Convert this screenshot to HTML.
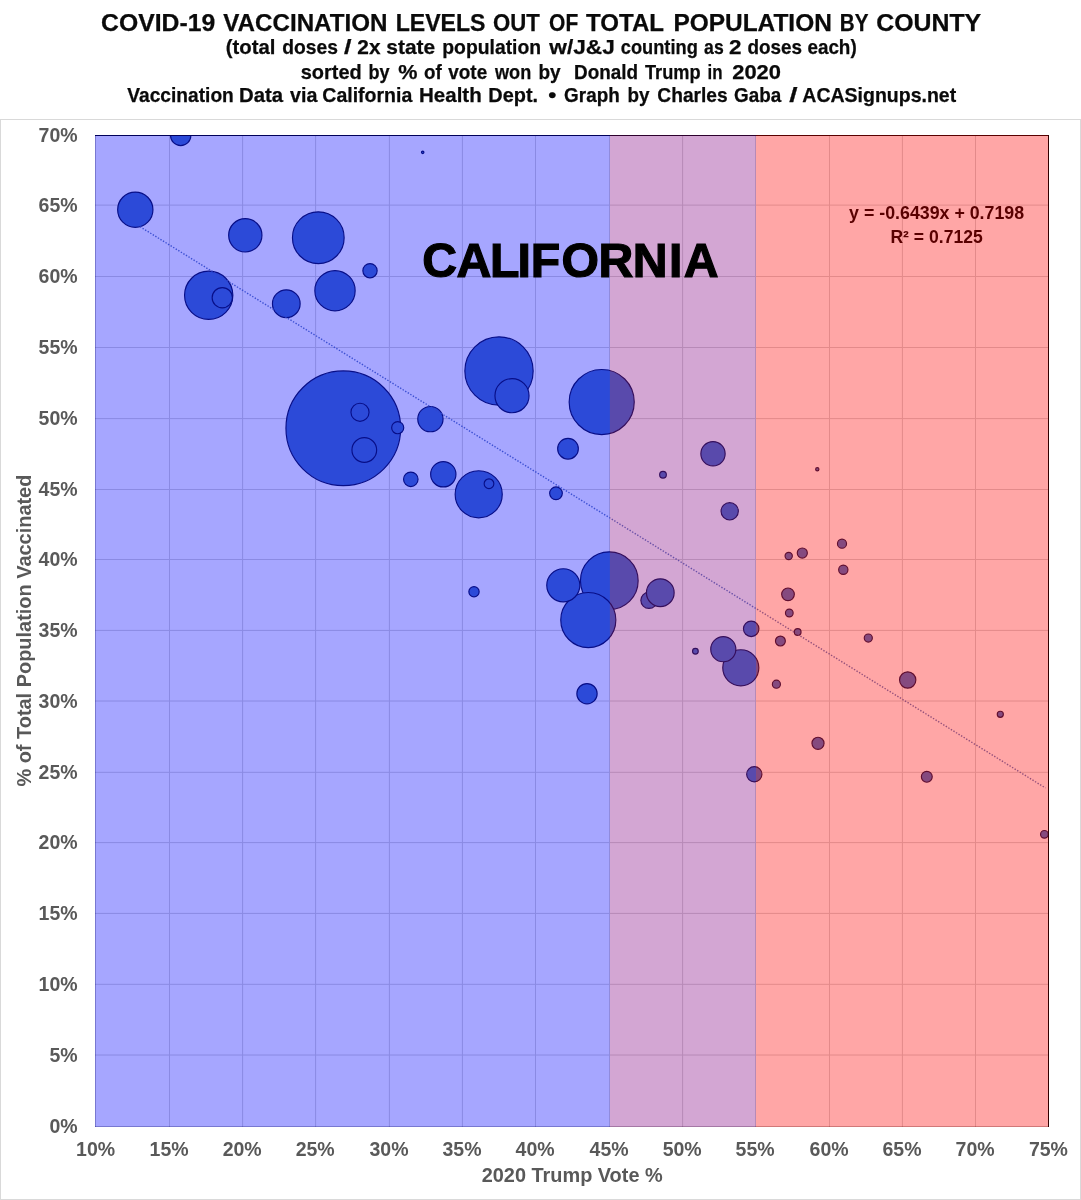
<!DOCTYPE html>
<html lang="en"><head><meta charset="utf-8"><title>COVID-19 Vaccination Levels by County - California</title>
<style>
html,body{margin:0;padding:0;background:#fff}
body{width:1081px;height:1200px;overflow:hidden}
svg{display:block}
text{font-family:"Liberation Sans",Arial,Helvetica,sans-serif;font-weight:bold}
.tt{fill:#0a0a0a;stroke:#0a0a0a;stroke-width:0.25px}
.ax{fill:#595959;font-size:19.5px}
</style></head><body>
<svg width="1081" height="1200" viewBox="0 0 1081 1200">
<rect width="1081" height="1200" fill="#fff"/>
<text class="tt" y="31.0" font-size="23.0"><tspan x="101.1" textLength="114.1" lengthAdjust="spacingAndGlyphs">COVID-19</tspan> <tspan x="223.3" textLength="164.1" lengthAdjust="spacingAndGlyphs">VACCINATION</tspan> <tspan x="395.7" textLength="89.8" lengthAdjust="spacingAndGlyphs">LEVELS</tspan> <tspan x="493.0" textLength="46.8" lengthAdjust="spacingAndGlyphs">OUT</tspan> <tspan x="549.1" textLength="29.1" lengthAdjust="spacingAndGlyphs">OF</tspan> <tspan x="586.0" textLength="77.6" lengthAdjust="spacingAndGlyphs">TOTAL</tspan> <tspan x="673.4" textLength="158.4" lengthAdjust="spacingAndGlyphs">POPULATION</tspan> <tspan x="839.8" textLength="28.3" lengthAdjust="spacingAndGlyphs">BY</tspan> <tspan x="876.2" textLength="105.0" lengthAdjust="spacingAndGlyphs">COUNTY</tspan></text>
<text class="tt" y="54.4" font-size="20.2"><tspan x="225.7" textLength="49.7" lengthAdjust="spacingAndGlyphs">(total</tspan> <tspan x="282.3" textLength="55.6" lengthAdjust="spacingAndGlyphs">doses</tspan> <tspan x="344.0" textLength="7.5" lengthAdjust="spacingAndGlyphs">/</tspan> <tspan x="357.3" textLength="23.2" lengthAdjust="spacingAndGlyphs">2x</tspan> <tspan x="386.3" textLength="48.9" lengthAdjust="spacingAndGlyphs">state</tspan> <tspan x="442.3" textLength="98.8" lengthAdjust="spacingAndGlyphs">population</tspan> <tspan x="549.3" textLength="65.5" lengthAdjust="spacingAndGlyphs">w/J&amp;J</tspan> <tspan x="620.8" textLength="77.0" lengthAdjust="spacingAndGlyphs">counting</tspan> <tspan x="704.1" textLength="19.6" lengthAdjust="spacingAndGlyphs">as</tspan> <tspan x="728.9" textLength="12.5" lengthAdjust="spacingAndGlyphs">2</tspan> <tspan x="747.4" textLength="54.6" lengthAdjust="spacingAndGlyphs">doses</tspan> <tspan x="807.4" textLength="49.3" lengthAdjust="spacingAndGlyphs">each)</tspan></text>
<text class="tt" y="78.5" font-size="20.2"><tspan x="300.7" textLength="61.0" lengthAdjust="spacingAndGlyphs">sorted</tspan> <tspan x="368.4" textLength="21.1" lengthAdjust="spacingAndGlyphs">by</tspan> <tspan x="398.3" textLength="19.2" lengthAdjust="spacingAndGlyphs">%</tspan> <tspan x="424.1" textLength="17.7" lengthAdjust="spacingAndGlyphs">of</tspan> <tspan x="448.3" textLength="38.9" lengthAdjust="spacingAndGlyphs">vote</tspan> <tspan x="495.0" textLength="36.2" lengthAdjust="spacingAndGlyphs">won</tspan> <tspan x="538.4" textLength="22.2" lengthAdjust="spacingAndGlyphs">by</tspan> <tspan x="574.1" textLength="64.0" lengthAdjust="spacingAndGlyphs">Donald</tspan> <tspan x="645.0" textLength="55.6" lengthAdjust="spacingAndGlyphs">Trump</tspan> <tspan x="707.5" textLength="15.0" lengthAdjust="spacingAndGlyphs">in</tspan> <tspan x="732.2" textLength="48.8" lengthAdjust="spacingAndGlyphs">2020</tspan></text>
<text class="tt" y="102.3" font-size="20.2"><tspan x="127.3" textLength="106.5" lengthAdjust="spacingAndGlyphs">Vaccination</tspan> <tspan x="239.0" textLength="44.1" lengthAdjust="spacingAndGlyphs">Data</tspan> <tspan x="290.0" textLength="27.4" lengthAdjust="spacingAndGlyphs">via</tspan> <tspan x="322.3" textLength="90.0" lengthAdjust="spacingAndGlyphs">California</tspan> <tspan x="419.0" textLength="62.7" lengthAdjust="spacingAndGlyphs">Health</tspan> <tspan x="488.3" textLength="49.8" lengthAdjust="spacingAndGlyphs">Dept.</tspan> <tspan x="548.2" textLength="8.1" lengthAdjust="spacingAndGlyphs">•</tspan> <tspan x="564.1" textLength="55.6" lengthAdjust="spacingAndGlyphs">Graph</tspan> <tspan x="627.4" textLength="22.0" lengthAdjust="spacingAndGlyphs">by</tspan> <tspan x="657.3" textLength="70.4" lengthAdjust="spacingAndGlyphs">Charles</tspan> <tspan x="734.1" textLength="47.2" lengthAdjust="spacingAndGlyphs">Gaba</tspan> <tspan x="789.3" textLength="8.3" lengthAdjust="spacingAndGlyphs">/</tspan> <tspan x="802.3" textLength="153.9" lengthAdjust="spacingAndGlyphs">ACASignups.net</tspan></text>
<rect x="0.5" y="119.5" width="1080" height="1080" fill="#fff" stroke="#d9d9d9" stroke-width="1"/>
<g shape-rendering="auto">
<g stroke="#d4d4d4" stroke-width="1">
<line x1="169.50" y1="135" x2="169.50" y2="1127"/><line x1="242.60" y1="135" x2="242.60" y2="1127"/><line x1="315.60" y1="135" x2="315.60" y2="1127"/><line x1="389.40" y1="135" x2="389.40" y2="1127"/><line x1="462.40" y1="135" x2="462.40" y2="1127"/><line x1="535.50" y1="135" x2="535.50" y2="1127"/><line x1="609.50" y1="135" x2="609.50" y2="1127"/><line x1="682.60" y1="135" x2="682.60" y2="1127"/><line x1="755.50" y1="135" x2="755.50" y2="1127"/><line x1="829.50" y1="135" x2="829.50" y2="1127"/><line x1="902.40" y1="135" x2="902.40" y2="1127"/><line x1="975.50" y1="135" x2="975.50" y2="1127"/><line x1="95" y1="1055.00" x2="1049" y2="1055.00"/><line x1="95" y1="984.30" x2="1049" y2="984.30"/><line x1="95" y1="913.40" x2="1049" y2="913.40"/><line x1="95" y1="842.60" x2="1049" y2="842.60"/><line x1="95" y1="772.30" x2="1049" y2="772.30"/><line x1="95" y1="701.00" x2="1049" y2="701.00"/><line x1="95" y1="630.40" x2="1049" y2="630.40"/><line x1="95" y1="559.50" x2="1049" y2="559.50"/><line x1="95" y1="489.50" x2="1049" y2="489.50"/><line x1="95" y1="418.60" x2="1049" y2="418.60"/><line x1="95" y1="347.50" x2="1049" y2="347.50"/><line x1="95" y1="276.50" x2="1049" y2="276.50"/><line x1="95" y1="205.10" x2="1049" y2="205.10"/>
</g>
<clipPath id="pc"><rect x="95" y="135" width="954" height="992"/></clipPath>
<g clip-path="url(#pc)" fill="#4472c4" stroke="#0c1648" stroke-width="1.15">
<circle cx="343.3" cy="428.3" r="57.35"/><circle cx="499" cy="371" r="34.15"/><circle cx="601.7" cy="402" r="32.550000000000004"/><circle cx="609.3" cy="580.7" r="28.85"/><circle cx="588.3" cy="620" r="27.55"/><circle cx="318.3" cy="237.7" r="25.85"/><circle cx="208.7" cy="295.3" r="24.150000000000002"/><circle cx="478.7" cy="494.3" r="23.55"/><circle cx="335" cy="290.7" r="20.150000000000002"/><circle cx="740.8" cy="667.8" r="18.05"/><circle cx="135.3" cy="209.7" r="17.650000000000002"/><circle cx="512" cy="395.7" r="17.05"/><circle cx="245.3" cy="235.3" r="16.650000000000002"/><circle cx="563.3" cy="585.3" r="16.55"/><circle cx="649" cy="600.3" r="8.15"/><circle cx="286.3" cy="303.7" r="13.85"/><circle cx="660.3" cy="592.7" r="13.85"/><circle cx="430.4" cy="419.1" r="12.65"/><circle cx="443.3" cy="474.3" r="12.65"/><circle cx="723.3" cy="649.2" r="12.549999999999999"/><circle cx="364.3" cy="450" r="12.35"/><circle cx="713" cy="453.7" r="12.15"/><circle cx="568" cy="448.7" r="10.35"/><circle cx="180.7" cy="135.5" r="10.15"/><circle cx="222.3" cy="297.7" r="10.15"/><circle cx="587" cy="693.7" r="10.15"/><circle cx="360" cy="412.3" r="9.049999999999999"/><circle cx="729.7" cy="511.3" r="8.65"/><circle cx="907.7" cy="680" r="8.15"/><circle cx="751.2" cy="628.8" r="7.75"/><circle cx="754.3" cy="774.3" r="7.6499999999999995"/><circle cx="410.8" cy="479.3" r="7.25"/><circle cx="370" cy="270.7" r="7.1499999999999995"/><circle cx="556" cy="493.3" r="6.35"/><circle cx="788" cy="594.3" r="6.35"/><circle cx="397.7" cy="427.7" r="6.05"/><circle cx="818" cy="743.3" r="6.05"/><circle cx="926.8" cy="776.8" r="5.449999999999999"/><circle cx="474" cy="591.7" r="5.1499999999999995"/><circle cx="802.3" cy="553" r="5.05"/><circle cx="780.4" cy="641" r="4.949999999999999"/><circle cx="489" cy="483.7" r="4.85"/><circle cx="843.3" cy="569.7" r="4.6499999999999995"/><circle cx="842" cy="543.7" r="4.55"/><circle cx="868.3" cy="638" r="4.05"/><circle cx="776.4" cy="684.2" r="4.05"/><circle cx="789.3" cy="613" r="3.85"/><circle cx="1044.4" cy="834.3" r="3.85"/><circle cx="788.7" cy="556" r="3.65"/><circle cx="663" cy="474.7" r="3.35"/><circle cx="797.7" cy="632" r="3.35"/><circle cx="1000.3" cy="714.3" r="3.0500000000000003"/><circle cx="695.4" cy="651.2" r="2.85"/><circle cx="817.3" cy="469.3" r="1.6500000000000001"/><circle cx="422.7" cy="152.3" r="1.25"/>
</g>
<line x1="140.0" y1="226.7" x2="1045.5" y2="788.0" stroke="#4a6cb4" stroke-opacity="0.9" stroke-width="1.4" stroke-dasharray="1.4 1.6"/>
<text x="936.6" y="218.7" font-size="17.6" text-anchor="middle" fill="#000" textLength="175" lengthAdjust="spacingAndGlyphs">y = -0.6439x + 0.7198</text>
<text x="936.6" y="242.5" font-size="17.6" text-anchor="middle" fill="#000" textLength="92.3" lengthAdjust="spacingAndGlyphs">R² = 0.7125</text>
<path d="M95 135.5H1049M1048.5 135V1127" fill="none" stroke="#000" stroke-width="1"/>
<path d="M95.5 135V1127M95 1126.5H1049" fill="none" stroke="#000" stroke-opacity="0.28" stroke-width="1"/>
<rect x="95" y="135" width="514.90" height="992" fill="#0000ff" fill-opacity="0.35"/>
<rect x="609.90" y="135" width="146.10" height="992" fill="#800080" fill-opacity="0.35"/>
<rect x="756.00" y="135" width="293.00" height="992" fill="#ff0000" fill-opacity="0.35"/>
<path d="M1048.5 135V1127" fill="none" stroke="#000" stroke-opacity="0.45" stroke-width="1"/>
</g>
<text x="422.3 456.55 490.05 517.55 530.85 561.5 598.45 632.65 669.1 683.75" y="277.3" font-size="48.2" fill="#000" stroke="#000" stroke-width="1.2">CALIFORNIA</text>
<text class="ax" x="77.6" y="1132.7" text-anchor="end">0%</text><text class="ax" x="77.6" y="1061.7" text-anchor="end">5%</text><text class="ax" x="77.6" y="991.0" text-anchor="end">10%</text><text class="ax" x="77.6" y="920.1" text-anchor="end">15%</text><text class="ax" x="77.6" y="849.3" text-anchor="end">20%</text><text class="ax" x="77.6" y="779.0" text-anchor="end">25%</text><text class="ax" x="77.6" y="707.7" text-anchor="end">30%</text><text class="ax" x="77.6" y="637.1" text-anchor="end">35%</text><text class="ax" x="77.6" y="566.2" text-anchor="end">40%</text><text class="ax" x="77.6" y="496.2" text-anchor="end">45%</text><text class="ax" x="77.6" y="425.3" text-anchor="end">50%</text><text class="ax" x="77.6" y="354.2" text-anchor="end">55%</text><text class="ax" x="77.6" y="283.2" text-anchor="end">60%</text><text class="ax" x="77.6" y="211.8" text-anchor="end">65%</text><text class="ax" x="77.6" y="141.7" text-anchor="end">70%</text>
<text class="ax" x="95.6" y="1155.8" text-anchor="middle">10%</text><text class="ax" x="169.1" y="1155.8" text-anchor="middle">15%</text><text class="ax" x="242.2" y="1155.8" text-anchor="middle">20%</text><text class="ax" x="315.2" y="1155.8" text-anchor="middle">25%</text><text class="ax" x="389.0" y="1155.8" text-anchor="middle">30%</text><text class="ax" x="462.0" y="1155.8" text-anchor="middle">35%</text><text class="ax" x="535.1" y="1155.8" text-anchor="middle">40%</text><text class="ax" x="609.1" y="1155.8" text-anchor="middle">45%</text><text class="ax" x="682.2" y="1155.8" text-anchor="middle">50%</text><text class="ax" x="755.1" y="1155.8" text-anchor="middle">55%</text><text class="ax" x="829.1" y="1155.8" text-anchor="middle">60%</text><text class="ax" x="902.0" y="1155.8" text-anchor="middle">65%</text><text class="ax" x="975.1" y="1155.8" text-anchor="middle">70%</text><text class="ax" x="1048.4" y="1155.8" text-anchor="middle">75%</text>
<text class="ax" x="572.2" y="1181.7" text-anchor="middle" textLength="181" lengthAdjust="spacingAndGlyphs">2020 Trump Vote %</text>
<text class="ax" transform="translate(31.4 630.6) rotate(-90)" text-anchor="middle" textLength="312" lengthAdjust="spacingAndGlyphs">% of Total Population Vaccinated</text>
</svg>
</body></html>
